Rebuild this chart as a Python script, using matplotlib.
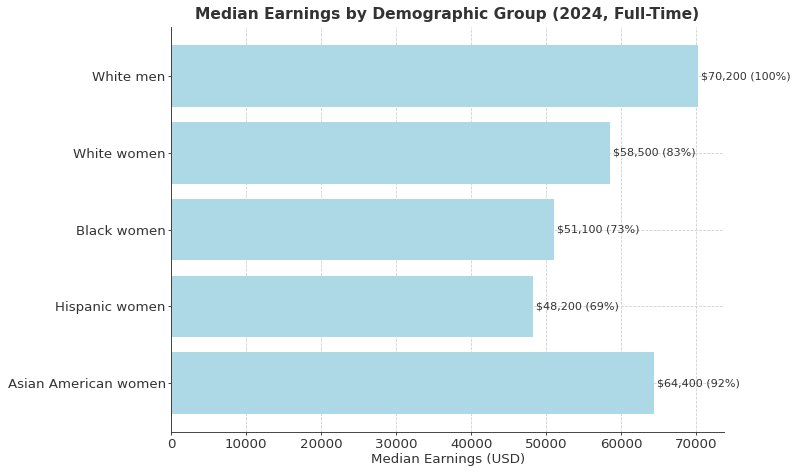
import matplotlib.pyplot as plt

groups = ["White men", "White women", "Black women", "Hispanic women", "Asian American women"]
earnings = [70200, 58500, 51100, 48200, 64400]
pct = [100, 83, 73, 69, 92]

plt.rcParams['text.color'] = '#333333'
plt.rcParams['axes.labelcolor'] = '#333333'
plt.rcParams['xtick.color'] = '#333333'
plt.rcParams['ytick.color'] = '#333333'

fig, ax = plt.subplots(figsize=(10, 5.9375), dpi=80)
ax.barh(groups, earnings, color='lightblue', height=0.8)
ax.invert_yaxis()
ax.set_xlim(0, max(earnings) * 1.05)

for i, (v, p) in enumerate(zip(earnings, pct)):
    ax.text(v + 400, i, f"${v:,} ({p}%)", va='center', ha='left', fontsize=10)

ax.set_xlabel("Median Earnings (USD)", fontsize=12, labelpad=2)
ax.set_title("Median Earnings by Demographic Group (2024, Full-Time)", fontsize=14, fontweight='bold', pad=7)
ax.tick_params(axis='both', labelsize=12, length=3, pad=2)
ax.grid(True, linestyle='--', color='#cccccc', linewidth=0.7)
ax.set_axisbelow(True)
ax.spines['top'].set_visible(False)
ax.spines['right'].set_visible(False)
ax.spines['left'].set_color('#333333')
ax.spines['bottom'].set_color('#333333')

plt.subplots_adjust(left=0.214, right=0.905, top=0.943, bottom=0.09)
plt.savefig("out.png", dpi=80)
